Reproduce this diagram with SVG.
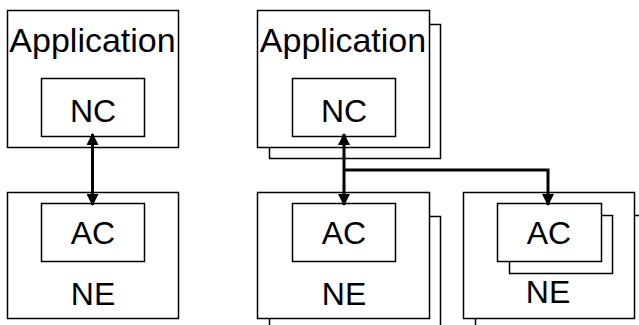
<svg xmlns="http://www.w3.org/2000/svg" width="639" height="325" viewBox="0 0 639 325">
<style>
.box{fill:#fff;stroke:#000;stroke-width:1.5}
.t{font-family:"Liberation Sans",Arial,sans-serif;fill:#000;text-anchor:middle}
.big{font-size:34px}
.mid{font-size:32px}
.conn{fill:none;stroke:#000;stroke-width:3}
</style>
<defs>
<marker id="ah" viewBox="0 0 12 12" refX="11" refY="6" markerWidth="12" markerHeight="12" markerUnits="userSpaceOnUse" orient="auto-start-reverse">
<path d="M0,0 L12,6 L0,12 Z" fill="#000"/>
</marker>
</defs>
<g id="app1">
<rect class="box" x="7.5" y="10.5" width="171" height="137"/>
<text class="t big" x="92.5" y="52">Application</text>
<g id="nc1">
<rect class="box" x="41.5" y="78.5" width="103" height="58"/>
<text class="t mid" x="93" y="122">NC</text>
</g>
</g>
<g id="ne1">
<rect class="box" x="7.5" y="192.5" width="171" height="126"/>
<text class="t mid" x="93" y="305">NE</text>
<g id="ac1">
<rect class="box" x="41.5" y="203.5" width="103" height="58"/>
<text class="t mid" x="93" y="244">AC</text>
</g>
</g>
<g id="app2">
<rect class="box" x="269.5" y="24.5" width="171" height="134"/>
<rect class="box" x="257.5" y="10.5" width="172" height="137"/>
<text class="t big" x="343" y="52">Application</text>
<g id="nc2">
<rect class="box" x="292.5" y="78.5" width="103" height="58"/>
<text class="t mid" x="344" y="122">NC</text>
</g>
</g>
<g id="ne2">
<rect class="box" x="269.5" y="216.5" width="171" height="126"/>
<rect class="box" x="257.5" y="192.5" width="172" height="126"/>
<text class="t mid" x="344" y="305">NE</text>
<g id="ac2">
<rect class="box" x="292.5" y="203.5" width="103" height="58"/>
<text class="t mid" x="344" y="244">AC</text>
</g>
</g>
<g id="ne3">
<rect class="box" x="475.5" y="215.5" width="171" height="126"/>
<rect class="box" x="463.5" y="192.5" width="171" height="126"/>
<text class="t mid" x="548" y="303">NE</text>
<g id="ac3">
<rect class="box" x="509.5" y="215.5" width="103" height="58"/>
<rect class="box" x="497.5" y="203.5" width="104" height="58"/>
<text class="t mid" x="549" y="244">AC</text>
</g>
</g>
<g id="connectors">
<path class="conn" d="M92.5,134 L92.5,205" marker-start="url(#ah)" marker-end="url(#ah)"/>
<path class="conn" d="M344,134 L344,205" marker-start="url(#ah)" marker-end="url(#ah)"/>
<path class="conn" d="M344,170 L548,170 L548,205" marker-end="url(#ah)"/>
</g>
</svg>
